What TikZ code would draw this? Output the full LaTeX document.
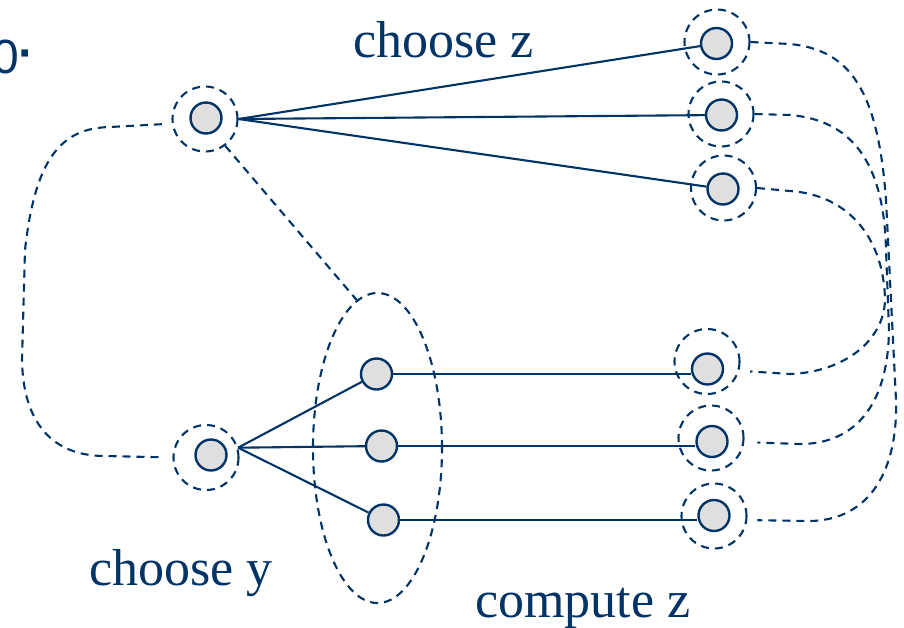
\documentclass[tikz,border=0pt]{standalone}
\usepackage{fontspec}
\setmainfont{Liberation Serif}
\newfontfamily\labelsans{Liberation Sans}
\usetikzlibrary{shapes.geometric}
\definecolor{navy}{RGB}{0,51,102}
\begin{document}
\begin{tikzpicture}[x=1pt,y=-1pt,
  state/.style={circle,draw=navy,line width=2.4pt,fill=gray!25,minimum size=31pt,inner sep=0pt},
  halo/.style={circle,draw=navy,line width=2.1pt,dash pattern=on 8pt off 6pt,minimum size=65pt,inner sep=0pt},
  link/.style={draw=navy,line width=2.1pt},
  tie/.style={draw=navy,line width=2.1pt,dash pattern=on 8pt off 6pt},
  caption/.style={text=navy,font=\fontsize{52}{60}\selectfont,inner sep=0pt,anchor=base west}]
\useasboundingbox (0,0) rectangle (904,627);
\clip (0,0) rectangle (904,627);

% dashed halos around the states
\node[halo] (Ao)  at (205,119)   {};
\node[halo] (Bo)  at (206,457.5) {};
\node[halo] (Z1o) at (717,42)    {};
\node[halo] (Z2o) at (721,114)   {};
\node[halo] (Z3o) at (723.5,188) {};
\node[halo] (W1o) at (707,361.5) {};
\node[halo] (W2o) at (711,438)   {};
\node[halo] (W3o) at (714,516)   {};

% group of computed states
\node[ellipse,draw=navy,line width=2.1pt,dash pattern=on 8pt off 6pt,
      minimum width=129pt,minimum height=310pt,inner sep=0pt] (E) at (377.5,448) {};

% states
\node[state] (A)  at (206,118)   {};
\node[state] (B)  at (211,455)   {};
\node[state] (Z1) at (716.5,43.5){};
\node[state] (Z2) at (721.5,115) {};
\node[state] (Z3) at (723,189)   {};
\node[state] (M1) at (376.5,374) {};
\node[state] (M2) at (381.5,446) {};
\node[state] (M3) at (383.5,520) {};
\node[state] (W1) at (707.5,369) {};
\node[state] (W2) at (712,441.5) {};
\node[state] (W3) at (714,515.5) {};

% choices of z
\draw[link] (Ao.east) -- (Z1);
\draw[link] (Ao.east) -- (Z2);
\draw[link] (Ao.east) -- (Z3);

% choices of y
\draw[link] (Bo.17) -- (M1);
\draw[link] (Bo.17) -- (M2);
\draw[link] (Bo.17) -- (M3);

% computed z
\draw[link] (M1.east) -- (M1.east -| W1.west);
\draw[link] (M2.east) -- (M2.east -| W2.west);
\draw[link] (M3.east) -- (M3.east -| W3.west);

% equivalences
\draw[tie] (Ao.-53) -- (E.98);
\draw[tie,shorten <=10pt,shorten >=13pt]
  (Ao.188) -- (110,127) .. controls (60,128) and (35,160) .. (25,250)
  -- (22,360) .. controls (23,420) and (50,456) .. (105,456) -- (Bo.west);
\draw[tie,shorten >=11pt]
  (Z3o.east) -- (790,191) .. controls (850,195) and (884,240) .. (885,300)
  .. controls (884,340) and (845,372) .. (790,374) -- (W1o.-16);
\draw[tie,shorten >=13pt]
  (Z2o.east) -- (790,115) .. controls (850,120) and (884,160) .. (886,250)
  -- (889,330) .. controls (888,405) and (855,444) .. (800,444) -- (W2o.-7);
\draw[tie,shorten >=10pt]
  (Z1o.east) -- (790,44) .. controls (850,50) and (878,90) .. (886,200)
  -- (896,400) .. controls (898,470) and (870,520) .. (810,521) -- (W3o.-7);

% labels
\node[caption] (lz) at (353,57)  {choose z};
\node[caption] (ly) at (89,585)  {choose y};
\node[caption] (lc) at (475,617) {compute z};
\node[text=navy,font=\labelsans\fontsize{48}{54}\selectfont,anchor=base west,inner sep=0pt]
  (corner) at (-8,73) {0\raisebox{4pt}{\bfseries·}};
\end{tikzpicture}
\end{document}
